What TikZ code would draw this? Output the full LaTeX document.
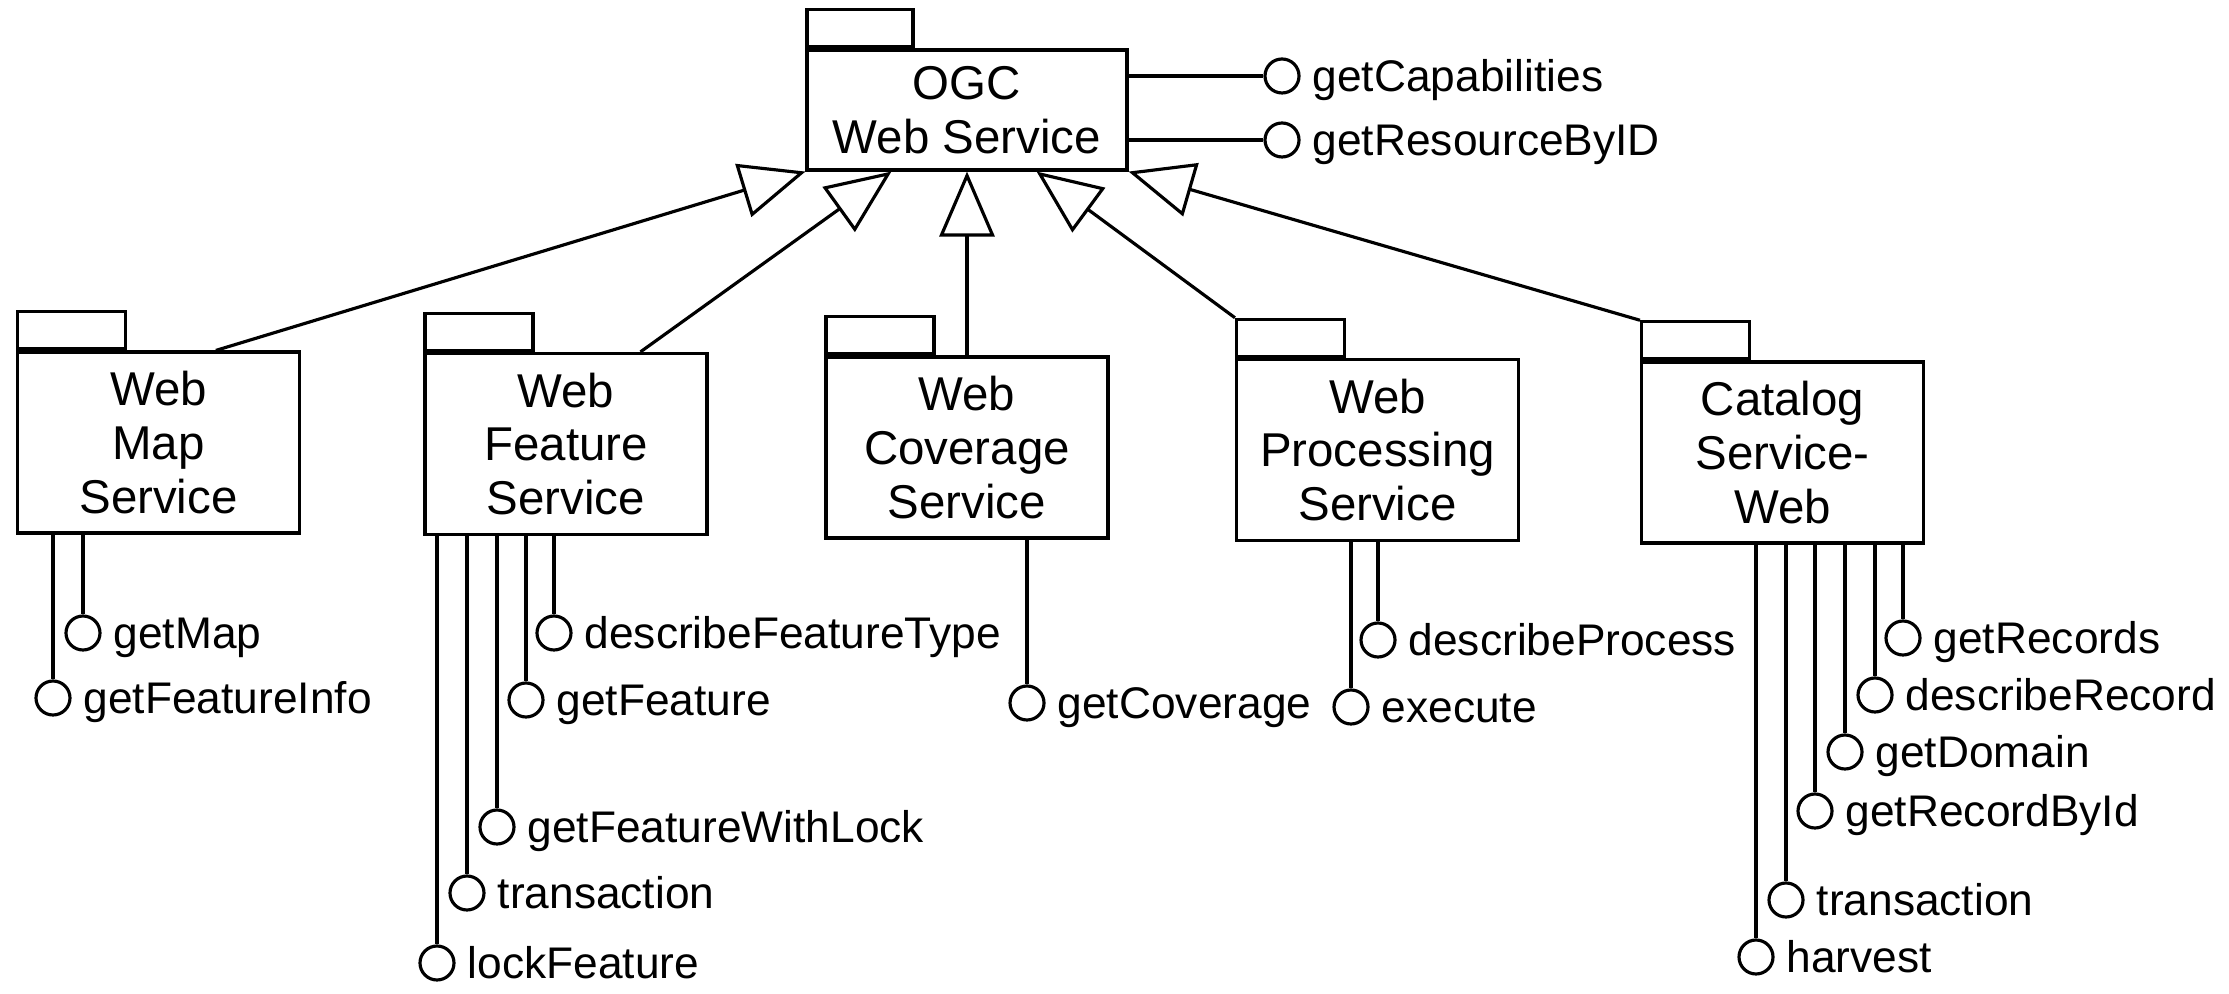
\documentclass[tikz,border=0pt]{standalone}
\usepackage{fontspec}
\setmainfont{Liberation Sans}
\usetikzlibrary{arrows.meta}

\begin{document}
\begin{tikzpicture}[>={Triangle[open,length=0.65cm,width=0.55cm]},line width=0.9pt]
\tikzset{pkg/.style={draw,shape=rectangle,minimum width=2.82cm,minimum height=1.81cm,inner sep=0pt,align=center,font=\fontsize{13.5}{15.3}\selectfont},
tab/.style={draw,shape=rectangle,minimum width=1.08cm,minimum height=0.37cm,inner sep=0pt,anchor=south west},
lolly/.style={draw,shape=circle,minimum size=0.34cm,inner sep=0pt},
lab/.style={font=\fontsize{12.6}{15}\selectfont,text height=9pt,text depth=0pt,inner sep=1pt,xshift=2pt}}

\useasboundingbox (0,0) rectangle (22.29,-9.94);

\node[pkg,minimum width=3.20cm,minimum height=1.20cm] (ogc) at (9.67,-1.10) {OGC\\Web Service};
\node[tab,minimum width=1.06cm] (ogctab) at (ogc.north west) {};

\node[pkg] (wms) at (1.585,-4.425) {Web\\Map\\Service};
\node[tab] (wmstab) at (wms.north west) {};
\node[pkg] (wfs) at (5.66,-4.44) {Web\\Feature\\Service};
\node[tab] (wfstab) at (wfs.north west) {};
\node[pkg] (wcs) at (9.67,-4.475) {Web\\Coverage\\Service};
\node[tab] (wcstab) at (wcs.north west) {};
\node[pkg] (wps) at (13.775,-4.50) {Web\\Processing\\Service};
\node[tab] (wpstab) at (wps.north west) {};
\node[pkg] (csw) at (17.825,-4.525) {Catalog\\Service-\\Web};
\node[tab] (cswtab) at (csw.north west) {};

\draw[->] ([xshift=2cm]wms.north west) -- (ogc.south west);
\draw[->] ([xshift=2.17cm]wfs.north west) -- ([xshift=0.86cm]ogc.south west);
\draw[->] (wcs.north) -- (wcs.north |- ogc.south);
\draw[->] (wpstab.north west) -- ([xshift=-0.92cm]ogc.south east);
\draw[->] (cswtab.north west) -- (ogc.south east);

\node[lolly,label={[lab]right:getCapabilities}] (getcap) at (12.82,-0.76) {};
\draw (getcap) -- (getcap -| ogc.east);
\node[lolly,label={[lab]right:getResourceByID}] (getres) at (12.82,-1.40) {};
\draw (getres) -- (getres -| ogc.east);

\node[lolly,label={[lab]right:getMap}] (getmap) at (0.83,-6.33) {};
\draw (getmap) -- (getmap |- wms.south);
\node[lolly,label={[lab]right:getFeatureInfo}] (getinfo) at (0.53,-6.98) {};
\draw (getinfo) -- (getinfo |- wms.south);

\node[lolly,label={[lab]right:describeFeatureType}] (descft) at (5.54,-6.33) {};
\draw (descft) -- (descft |- wfs.south);
\node[lolly,label={[lab]right:getFeature}] (getfeat) at (5.26,-7.00) {};
\draw (getfeat) -- (getfeat |- wfs.south);
\node[lolly,label={[lab]right:getFeatureWithLock}] (getlock) at (4.97,-8.27) {};
\draw (getlock) -- (getlock |- wfs.south);
\node[lolly,label={[lab]right:transaction}] (wfstrans) at (4.67,-8.93) {};
\draw (wfstrans) -- (wfstrans |- wfs.south);
\node[lolly,label={[lab]right:lockFeature}] (lockfeat) at (4.37,-9.63) {};
\draw (lockfeat) -- (lockfeat |- wfs.south);

\node[lolly,label={[lab]right:getCoverage}] (getcov) at (10.27,-7.03) {};
\draw (getcov) -- (getcov |- wcs.south);

\node[lolly,label={[lab]right:describeProcess}] (descproc) at (13.78,-6.40) {};
\draw (descproc) -- (descproc |- wps.south);
\node[lolly,label={[lab]right:execute}] (exec) at (13.51,-7.07) {};
\draw (exec) -- (exec |- wps.south);

\node[lolly,label={[lab]right:getRecords}] (getrec) at (19.03,-6.38) {};
\draw (getrec) -- (getrec |- csw.south);
\node[lolly,label={[lab]right:describeRecord}] (descrec) at (18.75,-6.95) {};
\draw (descrec) -- (descrec |- csw.south);
\node[lolly,label={[lab]right:getDomain}] (getdom) at (18.45,-7.52) {};
\draw (getdom) -- (getdom |- csw.south);
\node[lolly,label={[lab]right:getRecordById}] (getbyid) at (18.15,-8.11) {};
\draw (getbyid) -- (getbyid |- csw.south);
\node[lolly,label={[lab]right:transaction}] (cswtrans) at (17.86,-9.00) {};
\draw (cswtrans) -- (cswtrans |- csw.south);
\node[lolly,label={[lab]right:harvest}] (harvest) at (17.56,-9.57) {};
\draw (harvest) -- (harvest |- csw.south);

\end{tikzpicture}
\end{document}
